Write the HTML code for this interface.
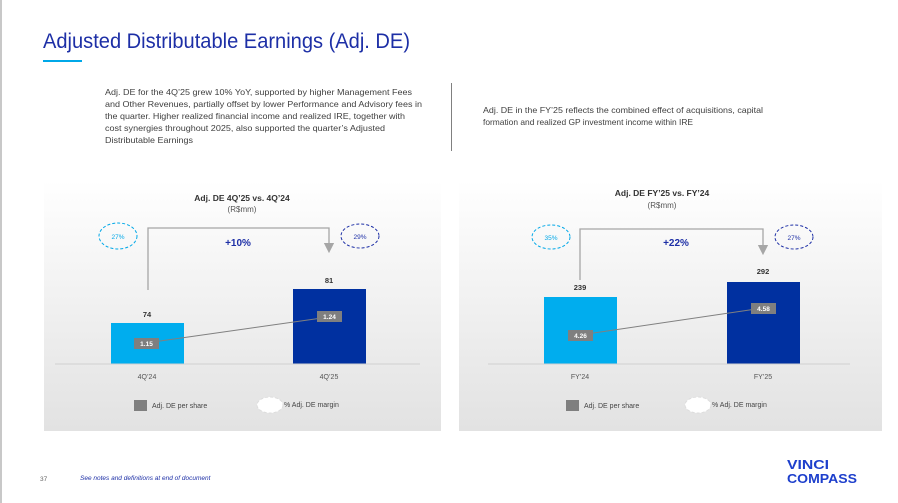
<!DOCTYPE html>
<html><head><meta charset="utf-8"><style>
html,body{margin:0;padding:0;background:#fff;}
svg{display:block;font-family:"Liberation Sans",sans-serif;}
</style></head><body>
<svg width="898" height="503" viewBox="0 0 898 503" xmlns="http://www.w3.org/2000/svg">
<defs>
<linearGradient id="g" x1="0" y1="0" x2="0" y2="1">
<stop offset="0" stop-color="#ffffff"/><stop offset="1" stop-color="#e2e2e2"/>
</linearGradient>
<marker id="ar" markerWidth="8" markerHeight="8" refX="4" refY="4" orient="auto"><path d="M0,0 L8,4 L0,8z" fill="#a6a6a6"/></marker>
</defs>
<rect x="0" y="0" width="2" height="503" fill="#c8c8c8"/>
<text x="43" y="48" font-size="21.5" fill="#1d2fa6" textLength="367" lengthAdjust="spacingAndGlyphs">Adjusted Distributable Earnings (Adj. DE)</text>
<rect x="43" y="60" width="39" height="2" fill="#00a8e8"/>
<g font-size="8.3" fill="#404040" lengthAdjust="spacingAndGlyphs">
<text x="105" y="95" textLength="307" lengthAdjust="spacingAndGlyphs">Adj. DE for the 4Q’25 grew 10% YoY, supported by higher Management Fees</text>
<text x="105" y="107" textLength="317" lengthAdjust="spacingAndGlyphs">and Other Revenues, partially offset by lower Performance and Advisory fees in</text>
<text x="105" y="119" textLength="300" lengthAdjust="spacingAndGlyphs">the quarter.  Higher realized financial income and realized IRE, together with</text>
<text x="105" y="131" textLength="280" lengthAdjust="spacingAndGlyphs">cost synergies throughout 2025, also supported the quarter’s Adjusted</text>
<text x="105" y="143" textLength="88" lengthAdjust="spacingAndGlyphs">Distributable  Earnings</text>
<text x="483" y="113" textLength="280" lengthAdjust="spacingAndGlyphs">Adj. DE in the FY’25 reflects the combined effect of acquisitions, capital</text>
<text x="483" y="125" textLength="210" lengthAdjust="spacingAndGlyphs">formation and realized GP investment income within IRE</text>
</g>
<rect x="451" y="83" width="1" height="68" fill="#808080"/>

<!-- Left panel -->
<rect x="44" y="180" width="397" height="251" fill="url(#g)"/>
<text x="242" y="201" font-size="8.5" font-weight="bold" fill="#333" text-anchor="middle">Adj. DE 4Q’25 vs. 4Q’24</text>
<text x="242" y="212" font-size="8" fill="#555" text-anchor="middle">(R$mm)</text>
<polyline points="148,290 148,228 329,228 329,248" fill="none" stroke="#a6a6a6" stroke-width="1.3" marker-end="url(#ar)"/>
<ellipse cx="118" cy="236" rx="19" ry="13" fill="none" stroke="#00a8e8" stroke-dasharray="3,2"/>
<text x="118" y="239" font-size="6.5" fill="#00a8e8" text-anchor="middle">27%</text>
<ellipse cx="360" cy="236" rx="19" ry="12" fill="none" stroke="#1d2fa6" stroke-dasharray="3,2"/>
<text x="360" y="239" font-size="6.5" fill="#1d2fa6" text-anchor="middle">29%</text>
<text x="238" y="246" font-size="10" font-weight="bold" fill="#1d2fa6" text-anchor="middle">+10%</text>
<rect x="111" y="323" width="73" height="41" fill="#00adee"/>
<rect x="293" y="289" width="73" height="75" fill="#0030a0"/>
<line x1="55" y1="364" x2="420" y2="364" stroke="#d0d0d0"/>
<text x="147" y="317" font-size="7.5" font-weight="bold" fill="#333" text-anchor="middle">74</text>
<text x="329" y="283" font-size="7.5" font-weight="bold" fill="#333" text-anchor="middle">81</text>
<line x1="146" y1="343" x2="329" y2="317" stroke="#808080" stroke-width="1"/>
<rect x="134" y="338" width="25" height="11" fill="#7f7f7f"/>
<text x="146.5" y="346" font-size="6.5" font-weight="bold" fill="#fff" text-anchor="middle">1.15</text>
<rect x="317" y="311" width="25" height="11" fill="#7f7f7f"/>
<text x="329.5" y="319" font-size="6.5" font-weight="bold" fill="#fff" text-anchor="middle">1.24</text>
<text x="147" y="379" font-size="7" fill="#555" text-anchor="middle">4Q’24</text>
<text x="329" y="379" font-size="7" fill="#555" text-anchor="middle">4Q’25</text>
<rect x="134" y="400" width="13" height="11" fill="#7f7f7f"/>
<text x="152" y="408" font-size="7" fill="#444">Adj. DE per share</text>
<ellipse cx="270" cy="405" rx="13" ry="8" fill="#fff" stroke="#ddd" stroke-dasharray="3,2"/>
<text x="284" y="407" font-size="7" fill="#444">% Adj. DE margin</text>

<!-- Right panel -->
<rect x="459" y="180" width="423" height="251" fill="url(#g)"/>
<text x="662" y="196" font-size="8.5" font-weight="bold" fill="#333" text-anchor="middle">Adj. DE FY’25 vs. FY’24</text>
<text x="662" y="208" font-size="8" fill="#555" text-anchor="middle">(R$mm)</text>
<polyline points="580,280 580,229 763,229 763,250" fill="none" stroke="#a6a6a6" stroke-width="1.3" marker-end="url(#ar)"/>
<ellipse cx="551" cy="237" rx="19" ry="12" fill="none" stroke="#00a8e8" stroke-dasharray="3,2"/>
<text x="551" y="240" font-size="6.5" fill="#00a8e8" text-anchor="middle">35%</text>
<ellipse cx="794" cy="237" rx="19" ry="12" fill="none" stroke="#1d2fa6" stroke-dasharray="3,2"/>
<text x="794" y="240" font-size="6.5" fill="#1d2fa6" text-anchor="middle">27%</text>
<text x="676" y="246" font-size="10" font-weight="bold" fill="#1d2fa6" text-anchor="middle">+22%</text>
<rect x="544" y="297" width="73" height="67" fill="#00adee"/>
<rect x="727" y="282" width="73" height="82" fill="#0030a0"/>
<line x1="488" y1="364" x2="850" y2="364" stroke="#d0d0d0"/>
<text x="580" y="290" font-size="7.5" font-weight="bold" fill="#333" text-anchor="middle">239</text>
<text x="763" y="274" font-size="7.5" font-weight="bold" fill="#333" text-anchor="middle">292</text>
<line x1="580" y1="335" x2="763" y2="308" stroke="#808080" stroke-width="1"/>
<rect x="568" y="330" width="25" height="11" fill="#7f7f7f"/>
<text x="580.5" y="338" font-size="6.5" font-weight="bold" fill="#fff" text-anchor="middle">4.26</text>
<rect x="751" y="303" width="25" height="11" fill="#7f7f7f"/>
<text x="763.5" y="311" font-size="6.5" font-weight="bold" fill="#fff" text-anchor="middle">4.58</text>
<text x="580" y="379" font-size="7" fill="#555" text-anchor="middle">FY’24</text>
<text x="763" y="379" font-size="7" fill="#555" text-anchor="middle">FY’25</text>
<rect x="566" y="400" width="13" height="11" fill="#7f7f7f"/>
<text x="584" y="408" font-size="7" fill="#444">Adj. DE per share</text>
<ellipse cx="698" cy="405" rx="13" ry="8" fill="#fff" stroke="#ddd" stroke-dasharray="3,2"/>
<text x="712" y="407" font-size="7" fill="#444">% Adj. DE margin</text>

<!-- footer -->
<text x="40" y="481" font-size="6.5" fill="#666">37</text>
<text x="80" y="480" font-size="6.5" font-style="italic" fill="#1d2fa6">See notes and definitions at end of document</text>
<text x="787" y="469" font-size="12.5" font-weight="bold" fill="#1d3fcc" textLength="42" lengthAdjust="spacingAndGlyphs">VINCI</text>
<text x="787" y="483" font-size="12.5" font-weight="bold" fill="#1d3fcc" textLength="70" lengthAdjust="spacingAndGlyphs">COMPASS</text>
</svg>
</body></html>
